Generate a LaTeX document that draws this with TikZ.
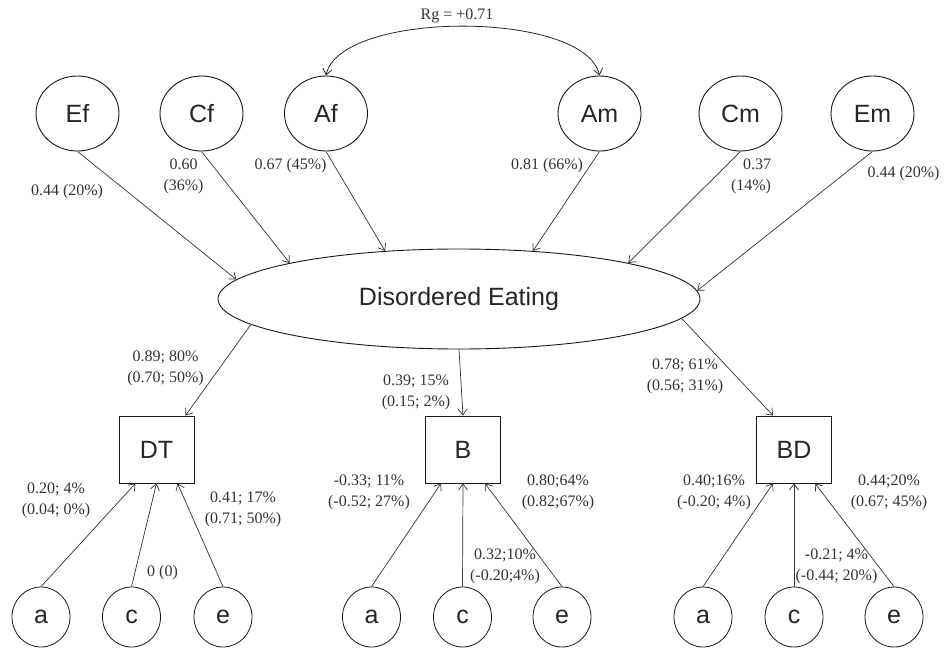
\documentclass[tikz,border=0pt]{standalone}
\usepackage{fontspec}
\setmainfont{Liberation Serif}
\setsansfont{Liberation Sans}
\usetikzlibrary{shapes.geometric,arrows.meta}
\tikzset{
  lat/.style={ellipse, draw=black!90, line width=0.9pt, minimum width=83pt, minimum height=75pt, inner sep=0pt, font=\sffamily\fontsize{25}{30}\selectfont, text=black!85},
  obs/.style={rectangle, draw=black!90, line width=0.8pt, minimum width=75pt, minimum height=67pt, inner sep=0pt, font=\sffamily\fontsize{25}{30}\selectfont, text=black!85},
  res/.style={ellipse, draw=black!90, line width=0.8pt, minimum width=58pt, minimum height=60pt, inner sep=0pt, font=\sffamily\fontsize{25}{30}\selectfont, text=black!85},
  big/.style={ellipse, draw=black!90, line width=0.9pt, minimum width=482pt, minimum height=100pt, inner sep=0pt, font=\sffamily\fontsize{25}{30}\selectfont, text=black!85},
  lab/.style={inner sep=0pt, align=center, font=\fontsize{16}{21}\selectfont, text=black!80},
  arr/.style={-{Straight Barb[length=6pt,width=9pt]}, line width=0.7pt, draw=black!80},
  darr/.style={{Straight Barb[length=6pt,width=9pt]}-{Straight Barb[length=6pt,width=9pt]}, line width=0.8pt, draw=black!85},
}
\begin{document}
\begin{tikzpicture}[x=1pt,y=-1pt]
\useasboundingbox (0,0) rectangle (944,650);
% latent genetic/environmental factors
\node[lat] (Ef) at (77.5,113.5) {Ef};
\node[lat] (Cf) at (201.5,113.5) {Cf};
\node[lat] (Af) at (326,113.5) {Af};
\node[lat] (Am) at (599.5,113.5) {Am};
\node[lat] (Cm) at (740.5,113.5) {Cm};
\node[lat] (Em) at (872.5,113.5) {Em};
% central latent
\node[big] (DE) at (459,299) {Disordered Eating};
% indicators
\node[obs] (DT) at (156.5,449.5) {DT};
\node[obs] (B) at (463,449.5) {B};
\node[obs] (BD) at (794,449.5) {BD};
% residual factors
\node[res] (a1) at (41,617) {a};
\node[res] (c1) at (131.5,617) {c};
\node[res] (e1) at (223,617) {e};
\node[res] (a2) at (371.5,617) {a};
\node[res] (c2) at (462.5,617) {c};
\node[res] (e2) at (562,617) {e};
\node[res] (a3) at (703,617) {a};
\node[res] (c3) at (794,617) {c};
\node[res] (e3) at (894,617) {e};
% genetic correlation
\draw[darr] (Af.north) .. controls (340,10) and (585,10) .. (Am.north);
\node[lab] (rg) at (457,16) {Rg = +0.71};
% loadings on Disordered Eating
\draw[arr] (Ef.south) -- (DE.175.7);
\draw[arr] (Cf.south) -- (DE.168.4);
\draw[arr] (Af.south) -- (DE.147.2);
\draw[arr] (Am.south) -- (DE.33.5);
\draw[arr] (Cm.south) -- (DE.12);
\draw[arr] (Em.south) -- (DE.2.7);
\node[lab] (lEf) at (67,192) {0.44 (20\%)};
\node[lab] (lCf) at (183.5,176.5) {0.60\\(36\%)};
\node[lab] (lAf) at (290.5,166) {0.67 (45\%)};
\node[lab] (lAm) at (547,166) {0.81 (66\%)};
\node[lab, align=right] (lCm) at (751,176.5) {0.37\\(14\%)};
\node[lab] (lEm) at (903.5,174) {0.44 (20\%)};
% loadings on indicators
\draw[arr] (DE.187.4) -- ([xshift=-9pt]DT.north east);
\draw[arr] (DE.south) -- (B.north);
\draw[arr] (DE.355.4) -- ([xshift=17pt]BD.north west);
\node[lab] (lDT) at (165.5,368) {0.89; 80\%\\(0.70; 50\%)};
\node[lab] (lB) at (416,392.5) {0.39; 15\%\\(0.15; 2\%)};
\node[lab] (lBD) at (685,376.5) {0.78; 61\%\\(0.56; 31\%)};
% residual paths DT
\draw[arr] (a1.north) -- ([xshift=-21pt]DT.south);
\draw[arr] (c1.north) -- (DT.south);
\draw[arr] (e1.north) -- ([xshift=21pt]DT.south);
\node[lab] (la1) at (56,500.5) {0.20; 4\%\\(0.04; 0\%)};
\node[lab] (lc1) at (162.5,573) {0 (0)};
\node[lab] (le1) at (243,509) {0.41; 17\%\\(0.71; 50\%)};
% residual paths B
\draw[arr] (a2.north) -- ([xshift=-22pt]B.south);
\draw[arr] (c2.north) -- (B.south);
\draw[arr] (e2.north) -- ([xshift=22pt]B.south);
\node[lab] (la2) at (369,492.5) {-0.33; 11\%\\(-0.52; 27\%)};
\node[lab] (lc2) at (505,566.5) {0.32;10\%\\(-0.20;4\%)};
\node[lab] (le2) at (558,492.5) {0.80;64\%\\(0.82;67\%)};
% residual paths BD
\draw[arr] (a3.north) -- ([xshift=-21pt]BD.south);
\draw[arr] (c3.north) -- (BD.south);
\draw[arr] (e3.north) -- ([xshift=21pt]BD.south);
\node[lab] (la3) at (714,492.5) {0.40;16\%\\(-0.20; 4\%)};
\node[lab] (lc3) at (836.5,566.5) {-0.21; 4\%\\(-0.44; 20\%)};
\node[lab] (le3) at (889,492.5) {0.44;20\%\\(0.67; 45\%)};
\end{tikzpicture}
\end{document}
